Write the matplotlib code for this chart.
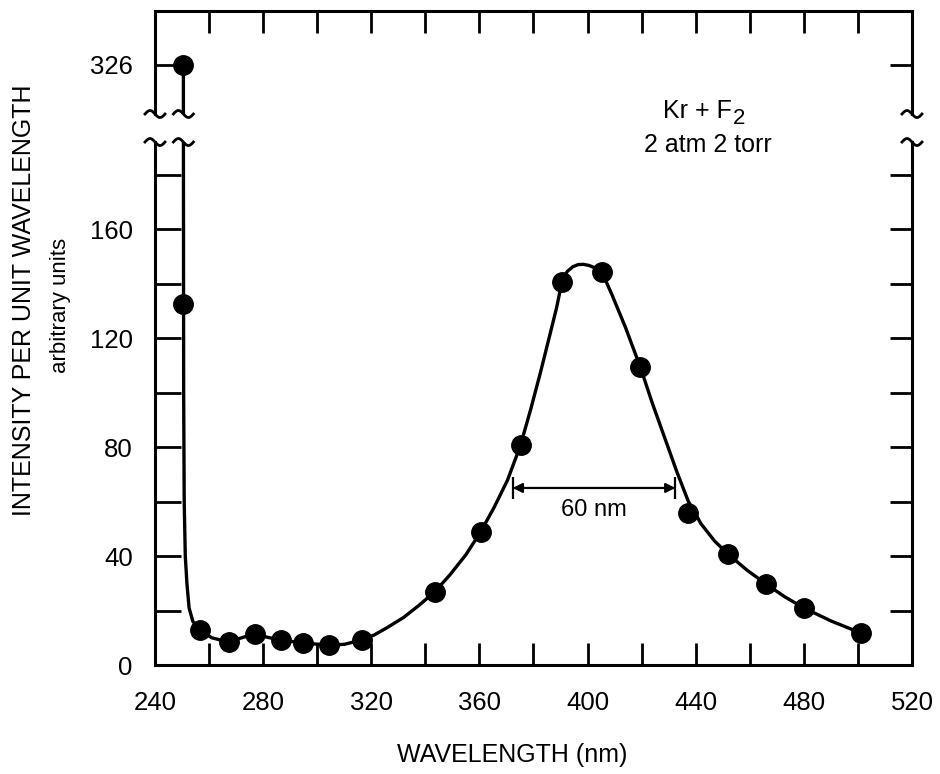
import matplotlib
matplotlib.use("Agg")
import matplotlib.pyplot as plt
import numpy as np
from matplotlib.lines import Line2D
from matplotlib.transforms import blended_transform_factory

plt.rcParams['font.family'] = ['Liberation Sans', 'DejaVu Sans']

##### Data #####
# measured points, Kr + F2, 2 atm / 2 torr
wl_pts = [250.5, 250.5, 256.6, 267.3, 276.9, 286.5, 294.7, 304.3, 316.5, 343.4,
          360.4, 375.2, 390.7, 405.5, 419.5, 437.3, 452.0, 466.1, 480.1, 501.2]
int_pts = [326, 132.5, 12.8, 8.4, 11.4, 9.2, 8.1, 7.3, 9.2, 26.8,
           48.8, 80.7, 140.6, 144.2, 109.4, 55.8, 40.7, 29.7, 20.9, 11.7]

# hand-drawn curve through the points
wl_curve = [250.5, 250.5, 250.6, 250.8, 251.2, 251.8, 252.6, 254.0, 256.6, 261.0,
            267.3, 272.0, 276.9, 281.5, 286.5, 294.7, 304.3, 310.0, 316.5, 321.0,
            326.0, 332.0, 337.5, 343.4, 349.0, 355.0, 360.4, 365.5, 370.4, 375.2,
            379.0, 382.6, 386.0, 388.5, 390.7, 392.5, 394.5, 396.5, 398.5, 400.5,
            402.5, 405.5, 409.0, 414.0, 419.5, 424.0, 428.5, 433.0, 437.3, 442.0,
            447.0, 452.0, 459.0, 466.1, 473.0, 480.1, 490.0, 501.2]
int_curve = [326, 200, 100, 60, 40, 30, 21, 16, 12.8, 10.0,
             8.4, 10.0, 11.4, 10.2, 9.2, 8.1, 7.3, 7.6, 9.2, 11.0,
             13.8, 17.5, 21.8, 26.8, 33.0, 40.5, 48.8, 58.0, 67.9, 80.7,
             94.0, 107.5, 121.0, 131.0, 141.5, 144.5, 146.2, 147.0, 147.1, 146.7,
             145.9, 143.8, 136.0, 124.0, 109.4, 96.0, 83.5, 71.0, 60.0, 51.8,
             45.5, 40.7, 34.8, 29.7, 25.0, 20.9, 16.2, 11.7]

fwhm_left, fwhm_right, fwhm_y = 372.3, 432.5, 65

x_ticks = np.arange(240, 521, 20)
x_labels = [str(v) if v % 40 == 0 else '' for v in x_ticks]
y_ticks = np.arange(0, 181, 20)
y_labels = [str(v) if v % 40 == 0 else '' for v in y_ticks]
break_tick = 326

##### Plot #####
fig = plt.figure(figsize=(9.4, 7.74), dpi=100)
ax = fig.add_axes([0.1649, 0.1408, 0.8053, 0.6757])
ax_top = fig.add_axes([0.1649, 0.8527, 0.8053, 0.1331])

lw = 2.4
for a in (ax, ax_top):
    a.plot(wl_curve, int_curve, color='black', lw=lw, zorder=2)
    a.plot(wl_pts, int_pts, 'o', color='black', ms=14, zorder=3)
    a.set_xlim(240, 520)
    for s in a.spines.values():
        s.set_linewidth(2.2)

ax.set_ylim(0, 192)
ax_top.set_ylim(308, 345.8)
ax.spines['top'].set_visible(False)
ax_top.spines['bottom'].set_visible(False)

# lower axes ticks
ax.set_xticks(x_ticks)
ax.set_xticklabels(x_labels)
ax.set_yticks(y_ticks)
ax.set_yticklabels(y_labels)
ax.tick_params(axis='x', direction='in', length=16, width=2, top=False,
               labelsize=18.5, pad=19)
ax.tick_params(axis='y', direction='in', length=19, width=2, right=True,
               labelsize=18.5, pad=16)
for t in ax.yaxis.get_major_ticks():
    t.tick2line.set_markersize(16)

# upper axes ticks
ax_top.set_xticks(x_ticks)
ax_top.tick_params(axis='x', direction='in', length=16, width=2, top=True,
                   bottom=False, labelbottom=False)
ax_top.set_yticks([break_tick])
ax_top.tick_params(axis='y', direction='in', length=19, width=2, right=True,
                   labelsize=18.5, pad=16)
for t in ax_top.yaxis.get_major_ticks():
    t.tick2line.set_markersize(16)

# FWHM marker
ax.annotate('', xy=(fwhm_right, fwhm_y), xytext=(fwhm_left, fwhm_y),
            arrowprops=dict(arrowstyle='<|-|>', color='black', lw=1.6,
                            mutation_scale=14, shrinkA=0, shrinkB=0))
ax.vlines([fwhm_left, fwhm_right], fwhm_y - 4, fwhm_y + 4, color='black', lw=1.6)
ax.text((fwhm_left + fwhm_right) / 2, fwhm_y - 8, '60 nm', ha='center',
        va='center', fontsize=17)

# labels
fig.text(0.545, 0.024, 'WAVELENGTH (nm)', ha='center', va='center', fontsize=18)
fig.text(0.026, 0.612, 'INTENSITY PER UNIT WAVELENGTH', rotation=90,
         ha='center', va='center', fontsize=18)
fig.text(0.064, 0.606, 'arbitrary units', rotation=90, ha='center',
         va='center', fontsize=16)
fig.text(0.779, 0.857, 'Kr + F', ha='right', va='center', fontsize=18)
fig.text(0.780, 0.847, '2', ha='left', va='center', fontsize=16)
fig.text(0.821, 0.813, '2 atm 2 torr', ha='right', va='center', fontsize=18)


# axis-break squiggles
def squiggle(a, x, y_axes):
    trans = blended_transform_factory(a.transData, a.transAxes)
    px, py = trans.transform((x, y_axes))
    t = np.linspace(0, 1, 40)
    pts = np.column_stack([px + (t - 0.5) * 20, py + 3.5 * np.sin(2 * np.pi * t)])
    fp = fig.transFigure.inverted().transform(pts)
    fig.add_artist(Line2D(fp[:, 0], fp[:, 1], color='black', lw=2))


for xb in (240, wl_pts[0], 520):
    squiggle(ax, xb, 1.0)
    squiggle(ax_top, xb, 0.0)

fig.savefig('out.png', dpi=100)
